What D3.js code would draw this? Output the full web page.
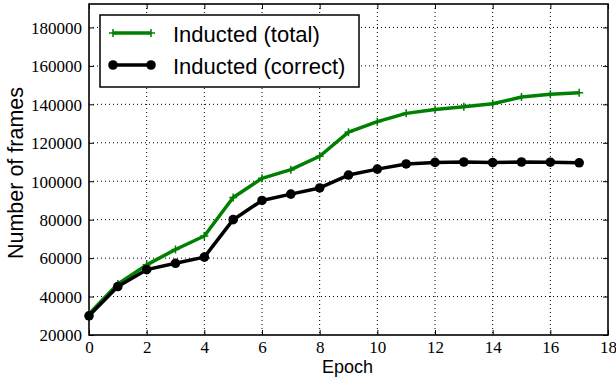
<!DOCTYPE html>
<html>
<head>
<meta charset="utf-8">
<script src="https://cdn.jsdelivr.net/npm/d3@7"></script>
<style>
  body { margin: 0; background: #fff; }
</style>
</head>
<body>
<div id="chart"></div>
<script>
var epochs = [0, 1, 2, 3, 4, 5, 6, 7, 8, 9, 10, 11, 12, 13, 14, 15, 16, 17];
var inductedTotal = [31000, 46500, 56500, 64500, 71500, 91500, 101500, 106000, 113000, 125500, 131000, 135300, 137300, 138800, 140300, 143800, 145300, 146000];
var inductedCorrect = [30000, 45200, 54000, 57300, 60500, 80000, 90000, 93300, 96500, 103200, 106300, 109000, 109800, 110000, 109700, 110000, 109900, 109600];
var xTicks = [0, 2, 4, 6, 8, 10, 12, 14, 16, 18];
var yTicks = [20000, 40000, 60000, 80000, 100000, 120000, 140000, 160000, 180000];
var legendLabels = ["Inducted (total)", "Inducted (correct)"];

var margin = { top: 4, right: 8, bottom: 46, left: 89 },
    width = 616 - margin.left - margin.right,
    height = 381 - margin.top - margin.bottom;

var svg = d3.select("#chart")
    .append("svg")
    .attr("width", width + margin.left + margin.right)
    .attr("height", height + margin.top + margin.bottom)
    .append("g")
    .attr("transform", "translate(" + margin.left + "," + margin.top + ")");

var x = d3.scaleLinear()
    .domain([0, 18])
    .range([0, width]);

var y = d3.scaleLinear()
    .domain([20000, 192200])
    .range([height, 0]);

// dotted grid
svg.append("g")
    .selectAll("line")
    .data(xTicks.slice(1, -1))
    .enter()
    .append("line")
    .attr("x1", function (d) { return x(d) })
    .attr("x2", function (d) { return x(d) })
    .attr("y1", 0)
    .attr("y2", height)
    .attr("stroke", "#000")
    .attr("stroke-width", 1)
    .attr("stroke-dasharray", "1,3");

svg.append("g")
    .selectAll("line")
    .data(yTicks.slice(1))
    .enter()
    .append("line")
    .attr("x1", 0)
    .attr("x2", width)
    .attr("y1", function (d) { return y(d) })
    .attr("y2", function (d) { return y(d) })
    .attr("stroke", "#000")
    .attr("stroke-width", 1)
    .attr("stroke-dasharray", "1,3");

// axes (ticks pointing inwards)
var xAxis = svg.append("g")
    .attr("transform", "translate(0," + height + ")")
    .call(d3.axisBottom(x).tickValues(xTicks).tickSizeInner(-5).tickSizeOuter(0).tickPadding(6));
var yAxis = svg.append("g")
    .call(d3.axisLeft(y).tickValues(yTicks).tickSizeInner(-5).tickSizeOuter(0).tickPadding(7).tickFormat(d3.format("d")));
svg.append("g")
    .call(d3.axisTop(x).tickValues(xTicks).tickSizeInner(-5).tickSizeOuter(0).tickFormat(""));
svg.append("g")
    .attr("transform", "translate(" + width + ",0)")
    .call(d3.axisRight(y).tickValues(yTicks).tickSizeInner(-5).tickSizeOuter(0).tickFormat(""));

svg.selectAll(".domain").remove();
svg.selectAll(".tick line").attr("stroke", "#000").attr("stroke-width", 1);
svg.selectAll(".tick text")
    .style("font-family", "'Liberation Serif', 'DejaVu Serif', serif")
    .style("font-size", "17px")
    .attr("fill", "#000");
yAxis.selectAll("text").attr("dy", "0.34em");

// frame
svg.append("rect")
    .attr("x", 0)
    .attr("y", 0)
    .attr("width", width)
    .attr("height", height)
    .attr("fill", "none")
    .attr("stroke", "#000")
    .attr("stroke-width", 1.6);

// lines
var lineTotal = d3.line()
    .x(function (d, i) { return x(epochs[i]) })
    .y(function (d) { return y(d) });

svg.append("path")
    .datum(inductedTotal)
    .attr("fill", "none")
    .attr("stroke", "#008000")
    .attr("stroke-width", 3.5)
    .attr("stroke-linejoin", "round")
    .attr("d", lineTotal);

svg.selectAll("plusmarks")
    .data(inductedTotal)
    .enter()
    .append("path")
    .attr("transform", function (d, i) { return "translate(" + x(epochs[i]) + "," + y(d) + ")" })
    .attr("d", "M-4,0H4M0,-4V4")
    .attr("stroke", "#008000")
    .attr("stroke-width", 1.5);

svg.append("path")
    .datum(inductedCorrect)
    .attr("fill", "none")
    .attr("stroke", "#000")
    .attr("stroke-width", 3.5)
    .attr("stroke-linejoin", "round")
    .attr("d", lineTotal);

svg.selectAll("dots")
    .data(inductedCorrect)
    .enter()
    .append("circle")
    .attr("cx", function (d, i) { return x(epochs[i]) })
    .attr("cy", function (d) { return y(d) })
    .attr("r", 4.8)
    .attr("fill", "#000");

// axis labels
svg.append("text")
    .attr("x", width / 2 - 1)
    .attr("y", height + 38)
    .attr("text-anchor", "middle")
    .style("font-family", "'Liberation Sans', Arial, sans-serif")
    .style("font-size", "18px")
    .text("Epoch");

svg.append("text")
    .attr("transform", "translate(" + (23 - margin.left) + "," + (173 - margin.top) + ") rotate(-90)")
    .attr("text-anchor", "middle")
    .style("font-family", "'Liberation Sans', Arial, sans-serif")
    .style("font-size", "21.5px")
    .text("Number of frames");

// legend
var legend = svg.append("g")
    .attr("transform", "translate(" + (100 - margin.left) + "," + (15 - margin.top) + ")");

legend.append("rect")
    .attr("width", 259)
    .attr("height", 72)
    .attr("fill", "#fff")
    .attr("stroke", "#000")
    .attr("stroke-width", 1.5);

var legendColor = ["#008000", "#000"];

legend.selectAll("keylines")
    .data(legendLabels)
    .enter()
    .append("line")
    .attr("x1", 13)
    .attr("x2", 51)
    .attr("y1", function (d, i) { return 18 + i * 32 })
    .attr("y2", function (d, i) { return 18 + i * 32 })
    .attr("stroke", function (d, i) { return legendColor[i] })
    .attr("stroke-width", 3.5);

legend.selectAll("keyplus")
    .data([13, 51])
    .enter()
    .append("path")
    .attr("transform", function (d) { return "translate(" + d + ",18)" })
    .attr("d", "M-4,0H4M0,-4V4")
    .attr("stroke", "#008000")
    .attr("stroke-width", 1.5);

legend.selectAll("keydots")
    .data([13, 51])
    .enter()
    .append("circle")
    .attr("cx", function (d) { return d })
    .attr("cy", 50)
    .attr("r", 4.8)
    .attr("fill", "#000");

legend.selectAll("labels")
    .data(legendLabels)
    .enter()
    .append("text")
    .attr("x", 73)
    .attr("y", function (d, i) { return 26.5 + i * 32 })
    .style("font-family", "'Liberation Sans', Arial, sans-serif")
    .style("font-size", "22px")
    .text(function (d) { return d });
</script>
</body>
</html>
